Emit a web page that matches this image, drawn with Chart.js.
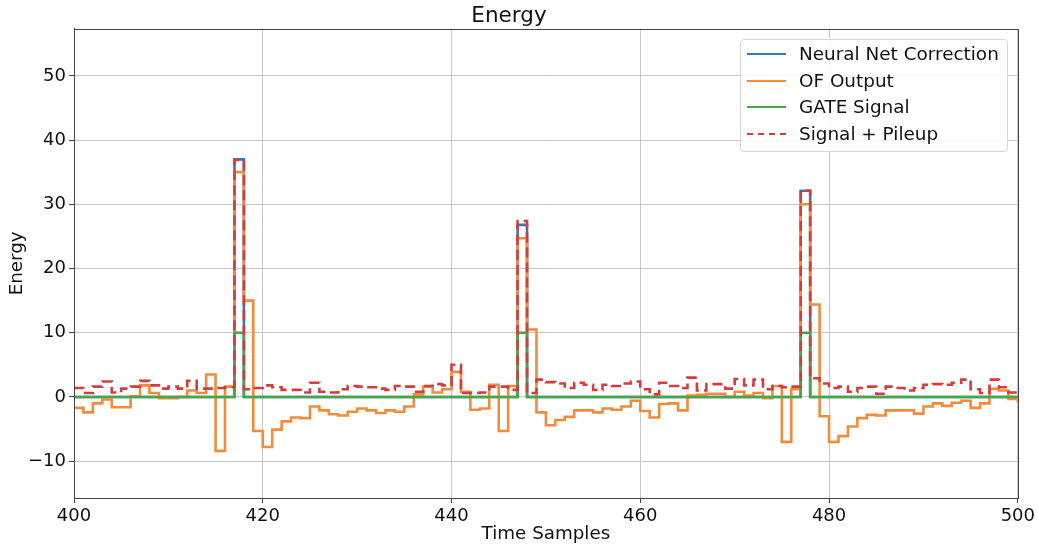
<!DOCTYPE html>
<html>
<head>
<meta charset="utf-8">
<script src="https://cdn.jsdelivr.net/npm/chart.js@4.4.1/dist/chart.umd.min.js"></script>
<style>
  body { margin: 0; background: #fff; }
  #wrap { position: relative; width: 1038px; height: 545px; }
  #legend {
    position: absolute; left: 740px; top: 39px; width: 266px; height: 111px;
    border: 1px solid #d6d6d6; border-radius: 4px; background: rgba(255,255,255,0.85);
    font-family: "DejaVu Sans", sans-serif; font-size: 18.4px; color: #111;
  }
  .row { position: absolute; left: 0; height: 26px; width: 100%; }
  .swatch { position: absolute; left: 6px; top: 12px; width: 39px; height: 0; }
  .label { position: absolute; left: 58px; top: 1px; line-height: 24px; white-space: nowrap; }
</style>
</head>
<body>
<div id="wrap">
  <canvas id="chart" width="1038" height="545"></canvas>
  <div id="legend"></div>
</div>
<script>
// time samples 400..500
const samples = [];
for (let i = 400; i <= 500; i++) samples.push(i);

const xTicks = [400, 420, 440, 460, 480, 500];
const yTicks = [-10, 0, 10, 20, 30, 40, 50];

const seriesNames = ['Neural Net Correction', 'OF Output', 'GATE Signal', 'Signal + Pileup'];
const seriesColors = ['#3677bd', '#f28b3a', '#45a845', '#d43d3d'];

// Neural net output: flat except at the three pulses
const nnCorrection = [
  0, 0, 0, 0, 0, 0, 0, 0, 0, 0,
  0, 0, 0, 0, 0, 0, 0, 37.0, 0, 0,
  0, 0, 0, 0, 0, 0, 0, 0, 0, 0,
  0, 0, 0, 0, 0, 0, 0, 0, 0, 0,
  0, 0, 0, 0, 0, 0, 0, 26.8, 0, 0,
  0, 0, 0, 0, 0, 0, 0, 0, 0, 0,
  0, 0, 0, 0, 0, 0, 0, 0, 0, 0,
  0, 0, 0, 0, 0, 0, 0, 32.1, 0, 0,
  0, 0, 0, 0, 0, 0, 0, 0, 0, 0,
  0, 0, 0, 0, 0, 0, 0, 0, 0, 0,
  0
];

const ofOutput = [
  -1.7, -2.4, -1.0, -0.4, -1.6, -1.6, 0.1, 1.8, 0.6, -0.2,
  -0.2, 0.0, 1.0, 0.6, 3.5, -8.4, 1.6, 35.0, 15.0, -5.3,
  -7.8, -5.1, -3.8, -3.2, -3.3, -1.5, -2.1, -2.7, -2.9, -2.3,
  -1.8, -2.1, -2.5, -2.1, -2.3, -1.5, 0.4, 1.6, 0.7, 1.2,
  3.9, 0.8, -2.0, -1.8, 1.9, -5.3, 1.7, 24.7, 10.5, -2.4,
  -4.4, -3.6, -3.1, -2.1, -2.1, -2.4, -1.8, -2.0, -1.5, -0.6,
  -2.2, -3.2, -1.1, -1.0, -2.1, 0.2, 0.35, 0.5, 0.5, 0.0,
  0.8, 0.2, 0.6, -0.2, 1.7, -7.0, 1.2, 30.0, 14.4, -3.0,
  -7.0, -6.1, -4.6, -3.3, -2.8, -2.9, -2.1, -2.1, -2.1, -2.6,
  -1.5, -1.0, -1.4, -0.9, -0.6, -1.7, -1.0, 1.25, 1.0, -0.3,
  -0.9
];

const gateSignal = [
  0, 0, 0, 0, 0, 0, 0, 0, 0, 0,
  0, 0, 0, 0, 0, 0, 0, 10, 0, 0,
  0, 0, 0, 0, 0, 0, 0, 0, 0, 0,
  0, 0, 0, 0, 0, 0, 0, 0, 0, 0,
  0, 0, 0, 0, 0, 0, 0, 10, 0, 0,
  0, 0, 0, 0, 0, 0, 0, 0, 0, 0,
  0, 0, 0, 0, 0, 0, 0, 0, 0, 0,
  0, 0, 0, 0, 0, 0, 0, 10, 0, 0,
  0, 0, 0, 0, 0, 0, 0, 0, 0, 0,
  0, 0, 0, 0, 0, 0, 0, 0, 0, 0,
  0
];

const signalPileup = [
  1.4, 0.6, 1.6, 2.4, 0.7, 1.3, 1.6, 2.5, 1.8, 1.3,
  1.6, 1.3, 2.5, 1.3, 1.3, 1.4, 1.5, 36.9, 1.2, 1.4,
  1.8, 1.5, 1.1, 1.1, 0.7, 2.2, 0.8, 0.7, 1.2, 1.7,
  1.6, 1.5, 1.3, 1.1, 1.7, 1.6, 0.8, 1.7, 2.0, 1.8,
  5.0, 0.6, 0.6, 0.7, 1.6, 1.6, 1.1, 27.4, 0.6, 2.7,
  2.3, 2.1, 1.4, 2.2, 1.9, 1.1, 1.9, 1.7, 2.1, 2.4,
  1.2, 0.4, 2.2, 1.7, 1.4, 3.0, 1.0, 2.0, 2.0, 1.3,
  2.8, 1.8, 2.7, 1.2, 1.7, 1.5, 1.6, 32.1, 2.9, 2.1,
  1.4, 1.6, 0.8, 1.4, 1.6, 0.5, 1.6, 1.4, 1.0, 1.4,
  1.9, 2.0, 1.9, 2.2, 2.7, 1.2, 0.6, 2.7, 1.5, 0.7,
  0.7
];

const allSeries = [nnCorrection, ofOutput, gateSignal, signalPileup];

function toPoints(values) {
  return values.map((v, i) => ({ x: samples[i], y: v }));
}

// each value holds from its sample to the next one ('before' in chart.js terms)
const datasets = allSeries.map((values, i) => ({
  label: seriesNames[i],
  data: toPoints(values),
  borderColor: seriesColors[i],
  backgroundColor: seriesColors[i],
  borderWidth: 2.6,
  borderDash: i === 3 ? [10, 5] : [],
  stepped: 'before',
  pointRadius: 0,
  fill: false,
  order: allSeries.length - 1 - i   // later series drawn on top
}));

// draws the top and right spines too, like matplotlib
const frame = {
  id: 'frame',
  afterDraw(chart) {
    const { ctx, chartArea: a } = chart;
    ctx.save();
    ctx.strokeStyle = '#444';
    ctx.lineWidth = 1;
    ctx.strokeRect(Math.round(a.left) + 0.5, Math.round(a.top) + 0.5,
      Math.round(a.right - a.left), Math.round(a.bottom - a.top));
    ctx.restore();
  }
};

const minus = v => String(v).replace('-', '\u2212');
const font = 'DejaVu Sans';

new Chart(document.getElementById('chart'), {
  type: 'line',
  data: { datasets: datasets },
  options: {
    responsive: false,
    animation: false,
    layout: { padding: { left: 0, right: 20, top: 0, bottom: 0 } },
    plugins: {
      legend: { display: false },
      tooltip: { enabled: false },
      title: {
        display: true,
        text: 'Energy',
        color: '#111',
        font: { family: font, size: 21.5, weight: 'normal', lineHeight: 1.1 },
        padding: { top: 5, bottom: 0 }
      }
    },
    scales: {
      x: {
        type: 'linear',
        min: 400,
        max: 500,
        afterBuildTicks: axis => { axis.ticks = xTicks.map(v => ({ value: v })); },
        afterFit: axis => { axis.height = 47; },
        ticks: { autoSkip: false, maxRotation: 0, padding: 3, color: '#111',
          font: { family: font, size: 18 }, callback: v => minus(v) },
        grid: { color: '#c8c8c8', lineWidth: 1, tickLength: 5, tickColor: '#444' },
        border: { color: '#444', width: 1 },
        title: { display: true, text: 'Time Samples', color: '#111',
          font: { family: font, size: 18.3 }, padding: { top: 0, bottom: 0 } }
      },
      y: {
        type: 'linear',
        min: -15.74,
        max: 57.35,
        afterBuildTicks: axis => { axis.ticks = yTicks.map(v => ({ value: v })); },
        afterFit: axis => { axis.width = 74; },
        ticks: { autoSkip: false, padding: 3, color: '#111',
          font: { family: font, size: 18 }, callback: v => minus(v) },
        grid: { color: '#c8c8c8', lineWidth: 1, tickLength: 5, tickColor: '#444' },
        border: { color: '#444', width: 1 },
        title: { display: true, text: 'Energy', color: '#111',
          font: { family: font, size: 18.3 }, padding: { top: 6, bottom: 0 } }
      }
    }
  },
  plugins: [frame]
});

// legend box inside the plot, top right
const legend = document.getElementById('legend');
seriesNames.forEach((name, i) => {
  const row = document.createElement('div');
  row.className = 'row';
  row.style.top = (1 + i * 26.7) + 'px';
  const style = i === 3 ? 'dashed' : 'solid';
  row.innerHTML = `
    <div class="swatch" style="border-top: 2.6px ${style} ${seriesColors[i]};"></div>
    <div class="label">${name}</div>`;
  legend.appendChild(row);
});
</script>
</body>
</html>
